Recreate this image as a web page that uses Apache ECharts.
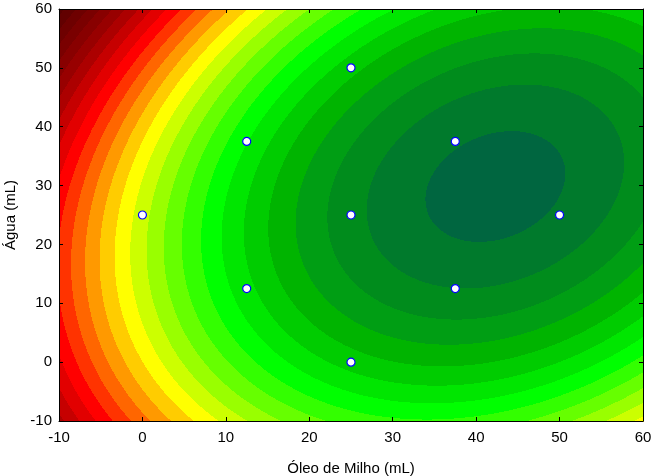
<!DOCTYPE html>
<html>
<head>
<meta charset="utf-8">
<script src="https://cdn.jsdelivr.net/npm/echarts@6/dist/echarts.min.js"></script>
<style>
  html, body { margin: 0; padding: 0; background: #fff; }
  #chart { width: 656px; height: 476px; }
</style>
</head>
<body>
<div id="chart"></div>
<script>
// design points (central composite design) and response at each point
const oleo = [0, 12.5, 12.5, 25, 25, 25, 37.5, 37.5, 50];
const agua = [25, 12.5, 37.5, 0, 25, 50, 12.5, 37.5, 25];
const resposta = [16.57, 21.65, 20.96, 22.38, 25.63, 22.63, 25.96, 26.9, 26.82];

const xTicks = [-10, 0, 10, 20, 30, 40, 50, 60];
const yTicks = [-10, 0, 10, 20, 30, 40, 50, 60];

// contour level colours, level 1 .. 27
const levelColors = [
  "#580000", "#620000", "#6e0000", "#7a0000", "#880000", "#980000", "#ac0000", "#c60000", "#e20000",
  "#ff0000", "#ff3300", "#ff6600", "#ff9900", "#ffcc00", "#ffff00",
  "#ccff00", "#99ff00", "#66ff00", "#33ff00", "#00ff00",
  "#00e600", "#00cc00", "#00b400", "#009e14", "#008c1c", "#007a2c", "#006640"
];

// full quadratic response surface fitted by least squares
function fitQuadratic(xs, ys, zs) {
  const basis = (x, y) => [1, x, y, x * x, y * y, x * y];
  const n = 6;
  const A = [];
  for (let i = 0; i < n; i++) A.push(new Array(n + 1).fill(0));
  xs.forEach((x, k) => {
    const b = basis(x, ys[k]);
    for (let i = 0; i < n; i++) {
      for (let j = 0; j < n; j++) A[i][j] += b[i] * b[j];
      A[i][n] += b[i] * zs[k];
    }
  });
  for (let c = 0; c < n; c++) {
    let p = c;
    for (let r = c + 1; r < n; r++) if (Math.abs(A[r][c]) > Math.abs(A[p][c])) p = r;
    [A[c], A[p]] = [A[p], A[c]];
    for (let r = 0; r < n; r++) {
      if (r === c) continue;
      const f = A[r][c] / A[c][c];
      for (let j = c; j <= n; j++) A[r][j] -= f * A[c][j];
    }
  }
  const coef = A.map((row, i) => row[n] / row[i]);
  return (x, y) => basis(x, y).reduce((s, v, i) => s + v * coef[i], 0);
}

const model = fitQuadratic(oleo, agua, resposta);

// filled contour bands, runs of equal level per pixel row
const xMin = -10, xMax = 60, yMin = -10, yMax = 60;
const nx = 584, ny = 412;
const bands = [];
const stepX = (xMax - xMin) / nx, stepY = (yMax - yMin) / ny;
for (let j = 0; j < ny; j++) {
  const y0 = yMin + j * stepY, y1 = y0 + stepY, yc = y0 + stepY / 2;
  let start = 0, cur = null;
  for (let i = 0; i <= nx; i++) {
    let lv = null;
    if (i < nx) {
      const z = model(xMin + (i + 0.5) * stepX, yc);
      lv = Math.max(1, Math.min(levelColors.length, Math.floor(z)));
    }
    if (lv !== cur) {
      if (cur !== null) bands.push([xMin + start * stepX, xMin + i * stepX, y0, y1, cur]);
      start = i; cur = lv;
    }
  }
}

const points = oleo.map((x, i) => [x, agua[i]]);

const chart = echarts.init(document.getElementById("chart"));
const labelFont = { fontFamily: "Liberation Sans", fontSize: 15, color: "#000" };
const frameAxis = {
  type: "value", min: -10, max: 60, interval: 10, z: 10,
  axisLine: { show: true, onZero: false, lineStyle: { color: "#000", width: 1 } },
  axisTick: { show: true, inside: true, length: 4, lineStyle: { color: "#000" } },
  axisLabel: { show: false },
  splitLine: { show: false }
};

chart.setOption({
  animation: false,
  grid: { left: 59, right: 13, top: 9, bottom: 55, containLabel: false, outerBoundsMode: "none" },
  xAxis: [
    Object.assign({}, frameAxis, {
      position: "bottom",
      name: "Óleo de Milho (mL)", nameLocation: "middle", nameGap: 40,
      nameTextStyle: labelFont,
      axisLabel: Object.assign({ show: true, margin: 9 }, labelFont, {
        formatter: (v) => (xTicks.includes(v) ? String(v) : "")
      })
    }),
    Object.assign({}, frameAxis, { position: "top" })
  ],
  yAxis: [
    Object.assign({}, frameAxis, {
      position: "left",
      name: "Água (mL)", nameLocation: "middle", nameGap: 41,
      nameTextStyle: labelFont,
      axisLabel: Object.assign({ show: true, margin: 7 }, labelFont, {
        formatter: (v) => (yTicks.includes(v) ? String(v) : "")
      })
    }),
    Object.assign({}, frameAxis, { position: "right" })
  ],
  series: [
    {
      type: "custom",
      silent: true,
      clip: true,
      data: bands,
      encode: { x: [0, 1], y: [2, 3] },
      renderItem: (params, api) => {
        const p0 = api.coord([api.value(0), api.value(3)]);
        const p1 = api.coord([api.value(1), api.value(2)]);
        return {
          type: "rect",
          shape: { x: Math.round(p0[0]), y: Math.round(p0[1]), width: Math.round(p1[0] - p0[0]) + 1, height: Math.round(p1[1] - p0[1]) + 1 },
          style: { fill: levelColors[api.value(4) - 1] }
        };
      }
    },
    {
      type: "scatter",
      data: points,
      symbol: "circle",
      symbolSize: 8,
      z: 5,
      itemStyle: { color: "#fff", borderColor: "#0000ff", borderWidth: 1.2, opacity: 1 }
    }
  ]
});
</script>
</body>
</html>
